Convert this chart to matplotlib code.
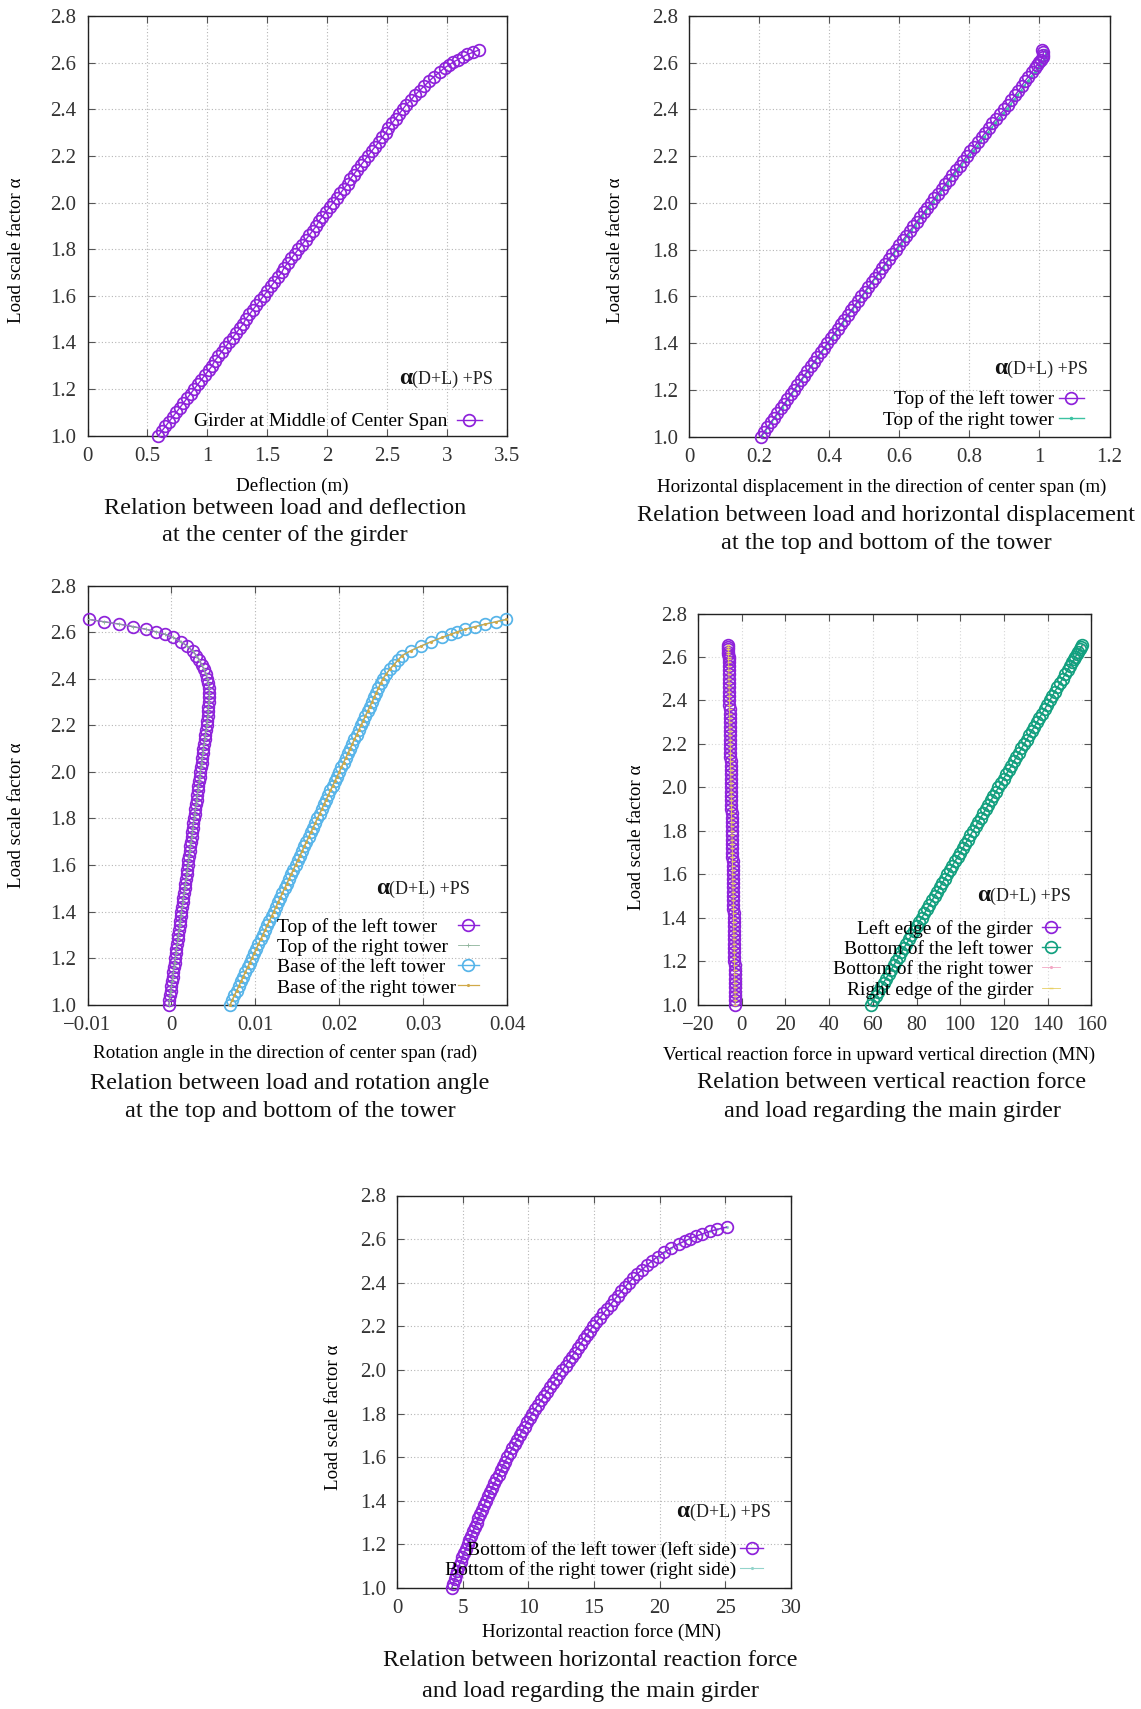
import matplotlib
matplotlib.use("Agg")
import matplotlib.pyplot as plt
from matplotlib.legend import Legend
from matplotlib.lines import Line2D
from matplotlib.offsetbox import TextArea, HPacker, AnchoredOffsetbox
from matplotlib.ticker import FixedLocator, FuncFormatter

plt.rcParams['font.family'] = ['Liberation Serif', 'DejaVu Serif']
plt.rcParams['axes.unicode_minus'] = True

# ---------------------------------------------------------------- data
# load scale factor at each analysis step
alpha = [
    1.00, 1.02, 1.04, 1.06, 1.08, 1.10, 1.12, 1.14, 1.16, 1.18,
    1.20, 1.22, 1.24, 1.26, 1.28, 1.30, 1.32, 1.34, 1.36, 1.38,
    1.40, 1.42, 1.44, 1.46, 1.48, 1.50, 1.52, 1.54, 1.56, 1.58,
    1.60, 1.62, 1.64, 1.66, 1.68, 1.70, 1.72, 1.74, 1.76, 1.78,
    1.80, 1.82, 1.84, 1.86, 1.88, 1.90, 1.92, 1.94, 1.96, 1.98,
    2.00, 2.02, 2.04, 2.06, 2.08, 2.10, 2.12, 2.14, 2.16, 2.18,
    2.20, 2.22, 2.24, 2.26, 2.28, 2.30, 2.32, 2.34, 2.36, 2.38,
    2.40, 2.42, 2.44, 2.46, 2.48, 2.50, 2.52, 2.54, 2.56, 2.578,
    2.591, 2.602, 2.613, 2.624, 2.635, 2.645, 2.655,
]

# deflection of the girder at mid centre span (m)
deflection_mid = [
    0.59, 0.62, 0.65, 0.68, 0.71, 0.74, 0.77, 0.80, 0.83, 0.86,
    0.89, 0.92, 0.95, 0.98, 1.01, 1.04, 1.06, 1.09, 1.12, 1.15,
    1.18, 1.21, 1.24, 1.27, 1.30, 1.32, 1.35, 1.38, 1.41, 1.44,
    1.47, 1.50, 1.53, 1.56, 1.59, 1.62, 1.64, 1.67, 1.70, 1.73,
    1.76, 1.79, 1.82, 1.85, 1.88, 1.91, 1.93, 1.96, 1.99, 2.02,
    2.05, 2.08, 2.11, 2.14, 2.17, 2.19, 2.22, 2.25, 2.28, 2.31,
    2.34, 2.37, 2.40, 2.43, 2.46, 2.49, 2.51, 2.54, 2.57, 2.60,
    2.63, 2.66, 2.70, 2.73, 2.77, 2.81, 2.85, 2.89, 2.94, 2.98,
    3.02, 3.05, 3.09, 3.13, 3.17, 3.22, 3.27,
]

# horizontal displacement of the tower tops (m)
disp_top_left = [
    0.205, 0.214, 0.224, 0.233, 0.243, 0.252, 0.262, 0.271, 0.281, 0.290,
    0.300, 0.309, 0.319, 0.328, 0.338, 0.347, 0.357, 0.366, 0.376, 0.386,
    0.395, 0.405, 0.414, 0.424, 0.434, 0.443, 0.453, 0.463, 0.472, 0.482,
    0.492, 0.502, 0.511, 0.521, 0.531, 0.541, 0.551, 0.560, 0.570, 0.580,
    0.590, 0.600, 0.610, 0.620, 0.630, 0.640, 0.650, 0.660, 0.670, 0.680,
    0.690, 0.700, 0.710, 0.721, 0.731, 0.741, 0.751, 0.762, 0.772, 0.782,
    0.793, 0.803, 0.814, 0.824, 0.835, 0.845, 0.856, 0.866, 0.877, 0.888,
    0.900, 0.910, 0.920, 0.930, 0.940, 0.949, 0.958, 0.968, 0.978, 0.987,
    0.994, 1.000, 1.005, 1.009, 1.011, 1.011, 1.008,
]
disp_top_right = [
    0.207, 0.216, 0.226, 0.235, 0.245, 0.254, 0.264, 0.273, 0.283, 0.292,
    0.302, 0.311, 0.321, 0.330, 0.340, 0.349, 0.359, 0.368, 0.378, 0.388,
    0.397, 0.407, 0.416, 0.426, 0.436, 0.445, 0.455, 0.465, 0.474, 0.484,
    0.494, 0.504, 0.513, 0.523, 0.533, 0.543, 0.553, 0.562, 0.572, 0.582,
    0.594, 0.604, 0.614, 0.624, 0.634, 0.644, 0.654, 0.664, 0.674, 0.684,
    0.695, 0.705, 0.715, 0.726, 0.736, 0.746, 0.756, 0.767, 0.777, 0.788,
    0.800, 0.810, 0.821, 0.831, 0.842, 0.852, 0.863, 0.873, 0.884, 0.895,
    0.907, 0.917, 0.927, 0.937, 0.947, 0.956, 0.966, 0.976, 0.986, 0.995,
    1.002, 1.008, 1.013, 1.017, 1.019, 1.019, 1.017,
]

# rotation angle of the towers (rad)
rot_top_left = [
    -0.00030, -0.00023, -0.00015, -0.00008, 0.00000, 0.00008, 0.00015, 0.00023, 0.00030, 0.00038,
    0.00045, 0.00053, 0.00060, 0.00068, 0.00075, 0.00083, 0.00090, 0.00098, 0.00105, 0.00113,
    0.00120, 0.00128, 0.00135, 0.00143, 0.00150, 0.00158, 0.00165, 0.00173, 0.00180, 0.00188,
    0.00195, 0.00203, 0.00210, 0.00218, 0.00225, 0.00233, 0.00240, 0.00248, 0.00255, 0.00263,
    0.00270, 0.00278, 0.00285, 0.00293, 0.00300, 0.00308, 0.00315, 0.00323, 0.00330, 0.00338,
    0.00345, 0.00352, 0.00359, 0.00366, 0.00373, 0.00380, 0.00388, 0.00396, 0.00404, 0.00412,
    0.00420, 0.00426, 0.00432, 0.00437, 0.00441, 0.00445, 0.00449, 0.00451, 0.00449, 0.00441,
    0.00428, 0.00412, 0.00388, 0.00362, 0.00333, 0.00298, 0.00252, 0.00190, 0.00112, 0.00016,
    -0.00076, -0.00184, -0.00306, -0.00454, -0.00621, -0.00803, -0.00980,
]
rot_top_right = [
    -0.00030, -0.00023, -0.00015, -0.00008, 0.00000, 0.00008, 0.00015, 0.00023, 0.00030, 0.00038,
    0.00045, 0.00053, 0.00060, 0.00068, 0.00075, 0.00083, 0.00090, 0.00098, 0.00105, 0.00113,
    0.00120, 0.00128, 0.00135, 0.00143, 0.00150, 0.00158, 0.00165, 0.00173, 0.00180, 0.00188,
    0.00195, 0.00203, 0.00210, 0.00218, 0.00225, 0.00233, 0.00240, 0.00248, 0.00255, 0.00263,
    0.00270, 0.00278, 0.00285, 0.00293, 0.00300, 0.00308, 0.00315, 0.00323, 0.00330, 0.00338,
    0.00345, 0.00352, 0.00359, 0.00366, 0.00373, 0.00380, 0.00388, 0.00396, 0.00404, 0.00412,
    0.00420, 0.00426, 0.00432, 0.00437, 0.00441, 0.00445, 0.00449, 0.00451, 0.00449, 0.00441,
    0.00428, 0.00412, 0.00388, 0.00362, 0.00333, 0.00298, 0.00252, 0.00190, 0.00112, 0.00016,
    -0.00076, -0.00184, -0.00306, -0.00454, -0.00621, -0.00803, -0.00980,
]
rot_base_left = [
    0.00700, 0.00726, 0.00752, 0.00778, 0.00804, 0.00830, 0.00856, 0.00882, 0.00908, 0.00934,
    0.00960, 0.00986, 0.01012, 0.01038, 0.01064, 0.01090, 0.01116, 0.01142, 0.01168, 0.01194,
    0.01220, 0.01246, 0.01272, 0.01298, 0.01324, 0.01350, 0.01376, 0.01402, 0.01428, 0.01454,
    0.01480, 0.01506, 0.01532, 0.01558, 0.01584, 0.01610, 0.01636, 0.01662, 0.01688, 0.01714,
    0.01740, 0.01766, 0.01792, 0.01818, 0.01844, 0.01870, 0.01896, 0.01922, 0.01948, 0.01974,
    0.02000, 0.02026, 0.02052, 0.02078, 0.02104, 0.02130, 0.02156, 0.02182, 0.02208, 0.02234,
    0.02260, 0.02286, 0.02312, 0.02338, 0.02364, 0.02390, 0.02416, 0.02442, 0.02468, 0.02494,
    0.02520, 0.02560, 0.02600, 0.02650, 0.02700, 0.02750, 0.02850, 0.02970, 0.03100, 0.03230,
    0.03330, 0.03410, 0.03500, 0.03620, 0.03740, 0.03870, 0.03990,
]
rot_base_right = [
    0.00700, 0.00726, 0.00752, 0.00778, 0.00804, 0.00830, 0.00856, 0.00882, 0.00908, 0.00934,
    0.00960, 0.00986, 0.01012, 0.01038, 0.01064, 0.01090, 0.01116, 0.01142, 0.01168, 0.01194,
    0.01220, 0.01246, 0.01272, 0.01298, 0.01324, 0.01350, 0.01376, 0.01402, 0.01428, 0.01454,
    0.01480, 0.01506, 0.01532, 0.01558, 0.01584, 0.01610, 0.01636, 0.01662, 0.01688, 0.01714,
    0.01740, 0.01766, 0.01792, 0.01818, 0.01844, 0.01870, 0.01896, 0.01922, 0.01948, 0.01974,
    0.02000, 0.02026, 0.02052, 0.02078, 0.02104, 0.02130, 0.02156, 0.02182, 0.02208, 0.02234,
    0.02260, 0.02286, 0.02312, 0.02338, 0.02364, 0.02390, 0.02416, 0.02442, 0.02468, 0.02494,
    0.02520, 0.02560, 0.02600, 0.02650, 0.02700, 0.02750, 0.02850, 0.02970, 0.03100, 0.03230,
    0.03330, 0.03410, 0.03500, 0.03620, 0.03740, 0.03870, 0.03990,
]

# vertical reaction forces (MN)
vr_left_edge = [
    -2.90, -2.94, -2.98, -3.02, -3.05, -3.09, -3.13, -3.17, -3.21, -3.25,
    -3.29, -3.32, -3.36, -3.40, -3.44, -3.48, -3.52, -3.56, -3.59, -3.63,
    -3.67, -3.71, -3.75, -3.79, -3.83, -3.87, -3.90, -3.94, -3.98, -4.02,
    -4.06, -4.10, -4.14, -4.17, -4.21, -4.25, -4.29, -4.33, -4.37, -4.41,
    -4.44, -4.48, -4.52, -4.56, -4.60, -4.64, -4.68, -4.71, -4.75, -4.79,
    -4.83, -4.87, -4.91, -4.95, -4.98, -5.02, -5.06, -5.10, -5.14, -5.18,
    -5.22, -5.25, -5.29, -5.33, -5.37, -5.41, -5.45, -5.49, -5.52, -5.56,
    -5.60, -5.64, -5.68, -5.72, -5.76, -5.79, -5.83, -5.87, -5.91, -5.94,
    -5.97, -5.99, -6.01, -6.03, -6.05, -6.07, -6.09,
]
vr_bottom_left = [
    59.0, 60.2, 61.3, 62.5, 63.7, 64.9, 66.0, 67.2, 68.4, 69.5,
    70.7, 71.9, 73.0, 74.2, 75.4, 76.6, 77.7, 78.9, 80.1, 81.2,
    82.4, 83.6, 84.7, 85.9, 87.1, 88.3, 89.4, 90.6, 91.8, 92.9,
    94.1, 95.3, 96.4, 97.6, 98.8, 100.0, 101.1, 102.3, 103.5, 104.6,
    105.8, 107.0, 108.1, 109.3, 110.5, 111.7, 112.8, 114.0, 115.2, 116.3,
    117.5, 118.7, 119.8, 121.0, 122.2, 123.4, 124.5, 125.7, 126.9, 128.0,
    129.2, 130.4, 131.5, 132.7, 133.9, 135.1, 136.2, 137.4, 138.6, 139.7,
    140.9, 142.1, 143.2, 144.4, 145.6, 146.8, 147.9, 149.1, 150.3, 151.3,
    152.1, 152.7, 153.4, 154.0, 154.6, 155.2, 155.8,
]
vr_bottom_right = [
    59.0, 60.2, 61.3, 62.5, 63.7, 64.9, 66.0, 67.2, 68.4, 69.5,
    70.7, 71.9, 73.0, 74.2, 75.4, 76.6, 77.7, 78.9, 80.1, 81.2,
    82.4, 83.6, 84.7, 85.9, 87.1, 88.3, 89.4, 90.6, 91.8, 92.9,
    94.1, 95.3, 96.4, 97.6, 98.8, 100.0, 101.1, 102.3, 103.5, 104.6,
    105.8, 107.0, 108.1, 109.3, 110.5, 111.7, 112.8, 114.0, 115.2, 116.3,
    117.5, 118.7, 119.8, 121.0, 122.2, 123.4, 124.5, 125.7, 126.9, 128.0,
    129.2, 130.4, 131.5, 132.7, 133.9, 135.1, 136.2, 137.4, 138.6, 139.7,
    140.9, 142.1, 143.2, 144.4, 145.6, 146.8, 147.9, 149.1, 150.3, 151.3,
    152.1, 152.7, 153.4, 154.0, 154.6, 155.2, 155.8,
]
vr_right_edge = [
    -2.90, -2.94, -2.98, -3.02, -3.05, -3.09, -3.13, -3.17, -3.21, -3.25,
    -3.29, -3.32, -3.36, -3.40, -3.44, -3.48, -3.52, -3.56, -3.59, -3.63,
    -3.67, -3.71, -3.75, -3.79, -3.83, -3.87, -3.90, -3.94, -3.98, -4.02,
    -4.06, -4.10, -4.14, -4.17, -4.21, -4.25, -4.29, -4.33, -4.37, -4.41,
    -4.44, -4.48, -4.52, -4.56, -4.60, -4.64, -4.68, -4.71, -4.75, -4.79,
    -4.83, -4.87, -4.91, -4.95, -4.98, -5.02, -5.06, -5.10, -5.14, -5.18,
    -5.22, -5.25, -5.29, -5.33, -5.37, -5.41, -5.45, -5.49, -5.52, -5.56,
    -5.60, -5.64, -5.68, -5.72, -5.76, -5.79, -5.83, -5.87, -5.91, -5.94,
    -5.97, -5.99, -6.01, -6.03, -6.05, -6.07, -6.09,
]

# horizontal reaction forces at the tower bottoms (MN)
hr_left = [
    4.17, 4.27, 4.38, 4.49, 4.60, 4.71, 4.84, 4.97, 5.10, 5.24,
    5.38, 5.51, 5.64, 5.78, 5.92, 6.06, 6.20, 6.34, 6.48, 6.62,
    6.76, 6.92, 7.08, 7.24, 7.40, 7.57, 7.73, 7.90, 8.06, 8.23,
    8.40, 8.58, 8.77, 8.95, 9.14, 9.33, 9.52, 9.71, 9.90, 10.09,
    10.29, 10.51, 10.73, 10.96, 11.19, 11.42, 11.65, 11.88, 12.12, 12.36,
    12.60, 12.83, 13.06, 13.29, 13.52, 13.75, 13.98, 14.21, 14.45, 14.68,
    14.92, 15.18, 15.45, 15.72, 15.99, 16.26, 16.53, 16.80, 17.08, 17.36,
    17.64, 17.97, 18.31, 18.66, 19.03, 19.41, 19.86, 20.35, 20.90, 21.45,
    21.90, 22.30, 22.75, 23.25, 23.80, 24.40, 25.10,
]
hr_right = [
    4.17, 4.27, 4.38, 4.49, 4.60, 4.71, 4.84, 4.97, 5.10, 5.24,
    5.38, 5.51, 5.64, 5.78, 5.92, 6.06, 6.20, 6.34, 6.48, 6.62,
    6.76, 6.92, 7.08, 7.24, 7.40, 7.57, 7.73, 7.90, 8.06, 8.23,
    8.40, 8.58, 8.77, 8.95, 9.14, 9.33, 9.52, 9.71, 9.90, 10.09,
    10.29, 10.51, 10.73, 10.96, 11.19, 11.42, 11.65, 11.88, 12.12, 12.36,
    12.60, 12.83, 13.06, 13.29, 13.52, 13.75, 13.98, 14.21, 14.45, 14.68,
    14.92, 15.18, 15.45, 15.72, 15.99, 16.26, 16.53, 16.80, 17.08, 17.36,
    17.64, 17.97, 18.31, 18.66, 19.03, 19.41, 19.86, 20.35, 20.90, 21.45,
    21.90, 22.30, 22.75, 23.25, 23.80, 24.40, 25.10,
]

alpha_ticks = [1.0, 1.2, 1.4, 1.6, 1.8, 2.0, 2.2, 2.4, 2.6, 2.8]
ticks_defl = [0, 0.5, 1, 1.5, 2, 2.5, 3, 3.5]
ticks_disp = [0, 0.2, 0.4, 0.6, 0.8, 1.0, 1.2]
ticks_rot = [-0.01, 0, 0.01, 0.02, 0.03, 0.04]
ticks_vr = [-20, 0, 20, 40, 60, 80, 100, 120, 140, 160]
ticks_hr = [0, 5, 10, 15, 20, 25, 30]

# ---------------------------------------------------------------- style
PURPLE = '#8E22DA'
GREEN2 = '#3CC2A2'
GREY3 = '#8DB39A'
BLUE3 = '#56B4E9'
OLIVE3 = '#D1A948'
GREEN4 = '#12A07F'
PINK4 = '#F3A6C4'
YELLOW4 = '#E7CF63'
CYAN5 = '#93D4CB'

LEG_SPACING = 0.13

W, H = 1141, 1709
fig = plt.figure(figsize=(W / 100, H / 100), dpi=100, facecolor='white')


def add_axes_px(x0, y0, x1, y1):
    return fig.add_axes([x0 / W, 1 - y1 / H, (x1 - x0) / W, (y1 - y0) / H])


def fmt_x(v, pos):
    s = '%g' % round(v, 6)
    return s.replace('-', '\u2212')


def style_axes(ax, xlim, xticks, xlabel, xlab_pos, ylab_pos, grid_color='#b5b5b5'):
    ax.set_xlim(*xlim)
    ax.set_ylim(1.0, 2.8)
    ax.xaxis.set_major_locator(FixedLocator(xticks))
    ax.yaxis.set_major_locator(FixedLocator(alpha_ticks))
    ax.xaxis.set_major_formatter(FuncFormatter(fmt_x))
    ax.yaxis.set_major_formatter(FuncFormatter(lambda v, p: '%.1f' % v))
    ax.tick_params(direction='in', length=5, width=0.8, top=True, right=True,
                   color='#555555', labelcolor='#333333', labelsize=15, pad=8)
    ax.grid(True, linestyle=(0, (1, 2)), color=grid_color, linewidth=0.8)
    ax.set_axisbelow(True)
    for sp in ax.spines.values():
        sp.set_color('#222222')
        sp.set_linewidth(1.0)
    ax.set_xlabel(xlabel, fontsize=13.7)
    ax.xaxis.set_label_coords(*xlab_pos)
    ax.xaxis.label.set_va('center')
    ax.set_ylabel('Load scale factor \u03b1', fontsize=13.7)
    ax.yaxis.set_label_coords(*ylab_pos)
    ax.yaxis.label.set_va('center')


def circles(color, z=3):
    return dict(color=color, lw=1.0, marker='o', ms=8.4, mfc='none', mew=1.25,
                zorder=z, clip_on=False)


def add_formula(ax, x, y):
    a = TextArea('\u03b1', textprops=dict(fontsize=17, fontweight='bold', color='#111111'))
    b = TextArea('(D+L) +PS', textprops=dict(fontsize=13, color='#222222'))
    box = HPacker(children=[a, b], align='baseline', pad=0, sep=0)
    ab = AnchoredOffsetbox(loc='center right', child=box, pad=0, borderpad=0,
                           bbox_to_anchor=(x, y), bbox_transform=ax.transAxes,
                           frameon=False)
    ax.add_artist(ab)


def add_legend(ax, handles, labels, anchor, hl, htp):
    leg = Legend(ax, handles, labels, loc='center right', bbox_to_anchor=anchor,
                 frameon=False, markerfirst=False, fontsize=14, handlelength=hl,
                 handletextpad=htp, borderpad=0, borderaxespad=0,
                 labelspacing=LEG_SPACING, numpoints=1)
    ax.add_artist(leg)


def caption(x, y1, y2, line1, line2):
    fig.text(x / W, 1 - y1 / H, line1, ha='center', va='center', fontsize=17.5, color='#111111')
    fig.text(x / W, 1 - y2 / H, line2, ha='center', va='center', fontsize=17.5, color='#111111')


# ---------------------------------------------------------------- panel 1
ax1 = add_axes_px(87.5, 16, 507, 435.7)
style_axes(ax1, (0, 3.5), ticks_defl, 'Deflection (m)', (0.4875, -0.119), (-0.170, 0.442))
l1, = ax1.plot(deflection_mid, alpha, **circles(PURPLE))
add_formula(ax1, 0.966, 0.136)
add_legend(ax1, [l1], ['Girder at Middle of Center Span'], (0.940, 0.034), 1.29, 0.46)
caption(285, 508, 536, 'Relation between load and deflection', 'at the center of the girder')

# ---------------------------------------------------------------- panel 2
ax2 = add_axes_px(689, 16, 1109.5, 436.5)
style_axes(ax2, (0, 1.2), ticks_disp, 'Horizontal displacement in the direction of center span (m)',
           (0.459, -0.119), (-0.174, 0.443))
l2b, = ax2.plot(disp_top_right, alpha, color=GREEN2, lw=1.0, marker='.', ms=3, zorder=2, clip_on=False)
l2a, = ax2.plot(disp_top_left, alpha, **circles(PURPLE))
add_formula(ax2, 0.948, 0.162)
add_legend(ax2, [l2a, l2b], ['Top of the left tower', 'Top of the right tower'],
           (0.939, 0.0637), 1.29, 0.26)
caption(886, 515, 543, 'Relation between load and horizontal displacement',
        'at the top and bottom of the tower')

# ---------------------------------------------------------------- panel 3
ax3 = add_axes_px(87.5, 585.7, 507, 1004.6)
style_axes(ax3, (-0.01, 0.04), ticks_rot, 'Rotation angle in the direction of center span (rad)',
           (0.470, -0.115), (-0.170, 0.452))
l3a, = ax3.plot(rot_top_left, alpha, **circles(PURPLE))
l3b, = ax3.plot(rot_top_right, alpha, color=GREY3, lw=0.6, marker='+', ms=3, mew=0.6,
                zorder=4, clip_on=False)
l3c, = ax3.plot(rot_base_left, alpha, **circles(BLUE3))
l3d, = ax3.plot(rot_base_right, alpha, color=OLIVE3, lw=0.9, marker='.', ms=2.5,
                zorder=4, clip_on=False)
add_formula(ax3, 0.911, 0.277)
labels3 = ['Top of the left tower', 'Top of the right tower',
           'Base of the left tower', 'Base of the right tower']
blank = [Line2D([], [], linestyle='none') for _ in labels3]
leg_txt = Legend(ax3, blank, labels3, loc='center left', bbox_to_anchor=(0.451, 0.1134),
                 frameon=False, fontsize=14, handlelength=0, handletextpad=0,
                 borderpad=0, borderaxespad=0, labelspacing=LEG_SPACING)
ax3.add_artist(leg_txt)
leg_h = Legend(ax3, [l3a, l3b, l3c, l3d], [' '] * 4, loc='center right',
               bbox_to_anchor=(0.944, 0.1134), frameon=False, fontsize=14,
               handlelength=1.08, handletextpad=0, borderpad=0, borderaxespad=0,
               labelspacing=LEG_SPACING, numpoints=1)
ax3.add_artist(leg_h)
caption(290, 1083, 1111, 'Relation between load and rotation angle',
        'at the top and bottom of the tower')

# ---------------------------------------------------------------- panel 4
ax4 = add_axes_px(697.9, 613.6, 1091.4, 1004.6)
style_axes(ax4, (-20, 160), ticks_vr, 'Vertical reaction force in upward vertical direction (MN)',
           (0.460, -0.128), (-0.155, 0.429), grid_color='#d6d6d6')
l4a, = ax4.plot(vr_left_edge, alpha, **circles(PURPLE))
l4c, = ax4.plot(vr_bottom_right, alpha, color=PINK4, lw=0.6, marker='.', ms=2.5,
                zorder=2, clip_on=False)
l4b, = ax4.plot(vr_bottom_left, alpha, **circles(GREEN4))
l4d, = ax4.plot(vr_right_edge, alpha, color=YELLOW4, lw=0.6, marker='_', ms=3,
                zorder=4, clip_on=False)
add_formula(ax4, 0.948, 0.2785)
add_legend(ax4, [l4a, l4b, l4c, l4d],
           ['Left edge of the girder', 'Bottom of the left tower',
            'Bottom of the right tower', 'Right edge of the girder'],
           (0.919, 0.1159), 0.9, 0.46)
caption(892, 1083, 1111, 'Relation between vertical reaction force',
        'and load regarding the main girder')

# ---------------------------------------------------------------- panel 5
ax5 = add_axes_px(397, 1195.5, 791, 1588)
style_axes(ax5, (0, 30), ticks_hr, 'Horizontal reaction force (MN)',
           (0.520, -0.113), (-0.160, 0.436))
l5b, = ax5.plot(hr_right, alpha, color=CYAN5, lw=0.8, marker='.', ms=2.5, zorder=2, clip_on=False)
l5a, = ax5.plot(hr_left, alpha, **circles(PURPLE))
add_formula(ax5, 0.948, 0.194)
add_legend(ax5, [l5a, l5b], ['Bottom of the left tower (left side)',
                             'Bottom of the right tower (right side)'],
           (0.929, 0.0715), 1.18, 0.18)
caption(590, 1661, 1691, 'Relation between horizontal reaction force',
        'and load regarding the main girder')

fig.savefig('out.png', dpi=100, facecolor='white')
